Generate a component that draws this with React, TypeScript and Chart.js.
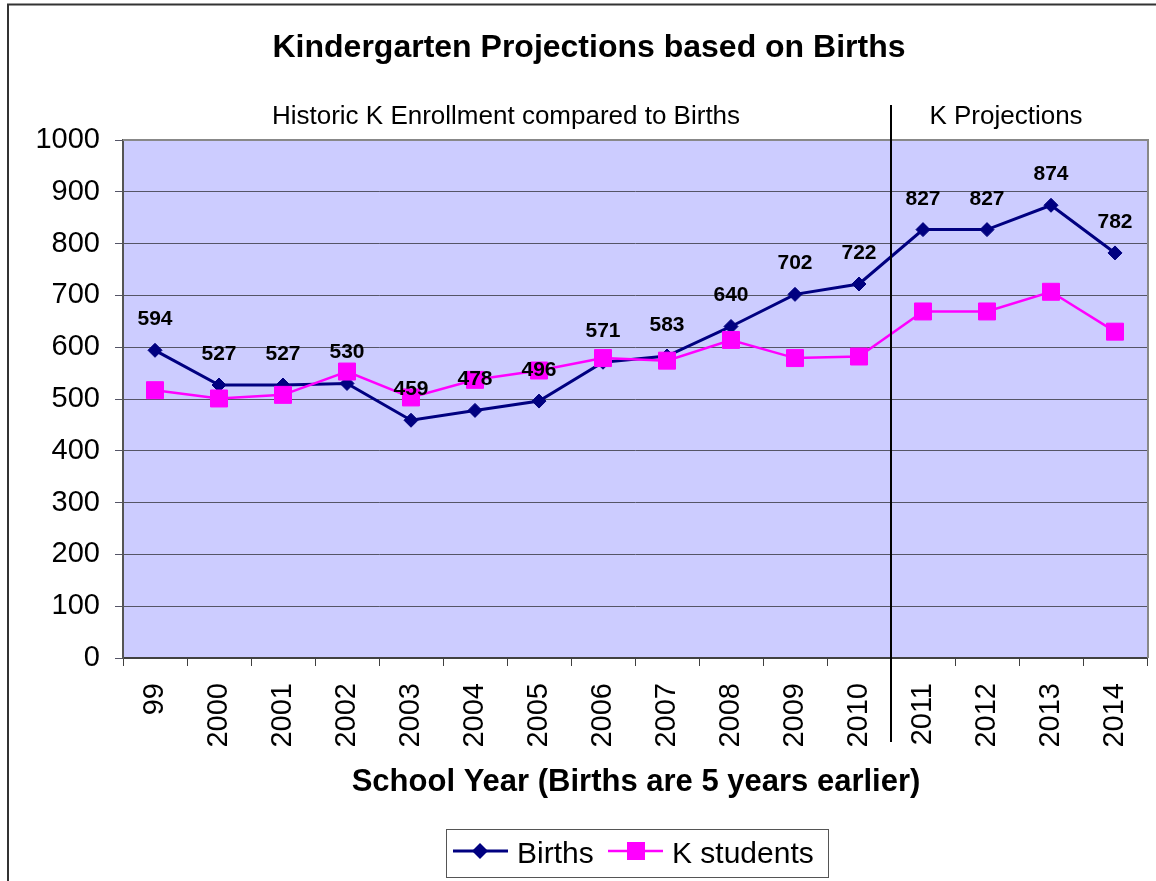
import React, { useEffect, useRef } from 'react';
import { Chart, registerables } from 'chart.js';

Chart.register(...registerables);

const categories = ['99', '2000', '2001', '2002', '2003', '2004', '2005', '2006', '2007', '2008', '2009', '2010', '2011', '2012', '2013', '2014'];
const births = [594, 527, 527, 530, 459, 478, 496, 571, 583, 640, 702, 722, 827, 827, 874, 782];
const kStudents = [517, 501, 508, 553, 503, 537, 555, 579, 574, 614, 579, 582, 669, 669, 707, 630];

const titleText = 'Kindergarten Projections based on Births';
const historicText = 'Historic K Enrollment compared to Births';
const projectionText = 'K Projections';
const xTitleText = 'School Year (Births are 5 years earlier)';
const seriesNames = ['Births', 'K students'];
const projectionStartIndex = 12;

const FONT = "'Liberation Sans', Arial, sans-serif";
const NAVY = '#000080';
const MAGENTA = '#FF00FF';

const decorPlugin = {
  id: 'decor',
  beforeDraw(chart: any) {
    const { ctx, chartArea: a } = chart;
    ctx.save();
    ctx.fillStyle = '#ffffff';
    ctx.fillRect(0, 0, chart.width, chart.height);
    ctx.fillStyle = '#CCCCFF';
    ctx.fillRect(a.left, a.top, a.right - a.left, a.bottom - a.top);
    ctx.restore();
  },
  afterDatasetsDraw(chart: any) {
    const { ctx } = chart;
    const meta = chart.getDatasetMeta(1);
    ctx.save();
    ctx.fillStyle = '#000';
    ctx.font = `bold 21px ${FONT}`;
    ctx.textAlign = 'center';
    ctx.textBaseline = 'alphabetic';
    meta.data.forEach((pt: any, i: number) => {
      ctx.fillText(String(births[i]), pt.x, pt.y - 25);
    });
    ctx.restore();
  },
  afterDraw(chart: any) {
    const { ctx, chartArea: a, scales } = chart;
    ctx.save();
    // plot border top/right
    ctx.strokeStyle = '#888888';
    ctx.lineWidth = 2;
    ctx.beginPath();
    ctx.moveTo(a.left, a.top);
    ctx.lineTo(a.right + 1, a.top);
    ctx.lineTo(a.right + 1, a.bottom);
    ctx.stroke();

    // outer border (left/top)
    ctx.strokeStyle = '#333333';
    ctx.lineWidth = 2;
    ctx.beginPath();
    ctx.moveTo(8, chart.height);
    ctx.lineTo(8, 4.5);
    ctx.lineTo(chart.width, 4.5);
    ctx.stroke();

    // separator
    const xs = scales.x;
    const sepX = Math.round((xs.getPixelForValue(projectionStartIndex - 1) + xs.getPixelForValue(projectionStartIndex)) / 2);
    ctx.strokeStyle = '#000';
    ctx.lineWidth = 2;
    ctx.beginPath();
    ctx.moveTo(sepX, 105);
    ctx.lineTo(sepX, 742);
    ctx.stroke();

    // titles
    ctx.fillStyle = '#000';
    ctx.textAlign = 'center';
    ctx.textBaseline = 'alphabetic';
    ctx.font = `bold 32px ${FONT}`;
    ctx.fillText(titleText, 589, 57);
    ctx.font = `26px ${FONT}`;
    ctx.fillText(historicText, 506, 124);
    ctx.fillText(projectionText, 1006, 124);
    ctx.font = `bold 31px ${FONT}`;
    ctx.fillText(xTitleText, 636, 791);

    // legend
    ctx.strokeStyle = '#555';
    ctx.lineWidth = 1;
    ctx.strokeRect(446.5, 829.5, 382, 48);
    ctx.strokeStyle = NAVY;
    ctx.lineWidth = 3;
    ctx.beginPath();
    ctx.moveTo(453, 851);
    ctx.lineTo(508, 851);
    ctx.stroke();
    ctx.fillStyle = NAVY;
    ctx.beginPath();
    ctx.moveTo(480 - 8, 851);
    ctx.lineTo(480, 851 - 8);
    ctx.lineTo(480 + 8, 851);
    ctx.lineTo(480, 851 + 8);
    ctx.closePath();
    ctx.fill();
    ctx.strokeStyle = MAGENTA;
    ctx.lineWidth = 2.5;
    ctx.beginPath();
    ctx.moveTo(608, 851);
    ctx.lineTo(663, 851);
    ctx.stroke();
    ctx.fillStyle = MAGENTA;
    ctx.fillRect(636 - 9, 851 - 9, 18, 18);
    ctx.fillStyle = '#000';
    ctx.textAlign = 'left';
    ctx.font = `30px ${FONT}`;
    ctx.fillText(seriesNames[0], 517, 863);
    ctx.fillText(seriesNames[1], 672, 863);
    ctx.restore();
  },
};

export default function App() {
  const ref = useRef<HTMLCanvasElement | null>(null);
  useEffect(() => {
    if (!ref.current) return;
    const chart = new Chart(ref.current, {
      type: 'line',
      data: {
        labels: categories,
        datasets: [
          {
            label: seriesNames[1],
            data: kStudents,
            borderColor: MAGENTA,
            backgroundColor: MAGENTA,
            borderWidth: 2.5,
            pointStyle: 'rect',
            pointRadius: 12,
            pointBorderWidth: 1,
            pointBorderColor: MAGENTA,
            tension: 0,
            order: 0,
          },
          {
            label: seriesNames[0],
            data: births,
            borderColor: NAVY,
            backgroundColor: NAVY,
            borderWidth: 3,
            pointStyle: 'rectRot',
            pointRadius: 7,
            pointBorderWidth: 1,
            pointBorderColor: NAVY,
            tension: 0,
            order: 1,
          },
        ],
      },
      options: {
        responsive: false,
        animation: false,
        events: [],
        layout: { autoPadding: false, padding: { left: 8, right: 9, top: 140, bottom: 0 } },
        plugins: {
          legend: { display: false },
          title: { display: false },
          tooltip: { enabled: false },
        },
        scales: {
          x: {
            type: 'category',
            offset: true,
            grid: {
              offset: true,
              drawOnChartArea: false,
              drawTicks: true,
              tickLength: 8,
              color: '#404040',
              lineWidth: 1,
            },
            border: { display: true, color: '#404040', width: 2 },
            ticks: {
              autoSkip: false,
              minRotation: 90,
              maxRotation: 90,
              padding: 17,
              color: '#000',
              font: { family: FONT, size: 29 },
            },
            afterFit(scale: any) {
              scale.height = 223;
              scale.paddingLeft = 0;
              scale.paddingRight = 0;
            },
          },
          y: {
            min: 0,
            max: 1000,
            ticks: {
              stepSize: 100,
              padding: 15,
              color: '#000',
              font: { family: FONT, size: 29 },
              callback: (v: any) => String(v),
            },
            grid: {
              color: '#555566',
              lineWidth: 1,
              tickLength: 8,
              drawTicks: true,
            },
            border: { display: true, color: '#555555', width: 2 },
            afterFit(scale: any) {
              scale.width = 115;
              scale.paddingTop = 0;
              scale.paddingBottom = 0;
            },
          },
        },
      },
      plugins: [decorPlugin],
    });
    return () => chart.destroy();
  }, []);

  return (
    <div style={{ position: 'absolute', left: 0, top: 0, width: 1156, height: 881 }}>
      <canvas ref={ref} width={1156} height={881} style={{ width: 1156, height: 881, display: 'block' }} />
    </div>
  );
}
